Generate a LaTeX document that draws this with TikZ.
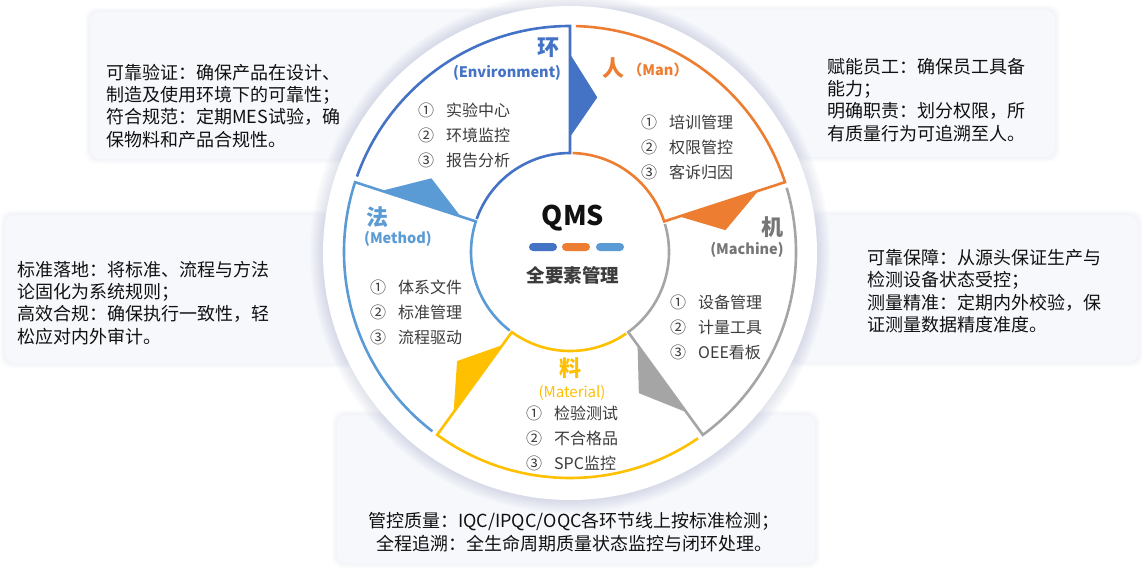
\documentclass[tikz,border=0pt]{standalone}
\usepackage{fontspec}
\setmainfont{Noto Sans CJK SC}
\usetikzlibrary{calc}

\definecolor{envblue}{RGB}{68,114,196}
\definecolor{manorange}{RGB}{237,125,49}
\definecolor{machgray}{RGB}{165,165,165}
\definecolor{matyellow}{RGB}{255,192,0}
\definecolor{methblue}{RGB}{91,155,213}
\definecolor{machlabel}{RGB}{118,118,118}
\definecolor{boxbg}{RGB}{246,248,252}
\definecolor{glow}{RGB}{150,160,190}
\definecolor{notetext}{RGB}{17,17,17}
\definecolor{itemtext}{RGB}{60,60,60}

\tikzset{
  notebox/.style={fill=boxbg, rounded corners=10pt},
  note/.style={anchor=west, align=left, inner sep=0pt, text=notetext,
    font=\fontsize{18}{22.3}\selectfont},
  item/.style={anchor=west, inner sep=0pt, text=itemtext,
    font=\fontsize{16}{16}\selectfont},
  big/.style={inner sep=0pt, font=\fontsize{22}{22}\selectfont\bfseries},
  sub/.style={inner sep=0pt, font=\fontsize{14.5}{14.5}\selectfont\bfseries},
  ring/.style={line width=2.6pt, line join=miter},
  bar/.style={minimum width=28pt, minimum height=8pt, inner sep=0pt, rounded corners=4pt},
}

\begin{document}
\begin{tikzpicture}[x=1pt,y=1pt]
  \useasboundingbox (0,0) rectangle (1143,-568);

  \foreach \xa/\ya/\xb/\yb in {90/12/560/159,5/215/470/363,580/10/1055/157,670/215/1138/362,337/415/815/563}{
    \foreach \k in {1,...,5}
      \fill[glow, opacity=0.025, rounded corners=10pt] (\xa-\k,-\ya+\k) rectangle (\xb+\k,-\yb-\k);
    \fill[notebox] (\xa,-\ya) rectangle (\xb,-\yb);
  }

  \node[note] (envnote) at (106,-106) {可靠验证：确保产品在设计、\\制造及使用环境下的可靠性；\\符合规范：定期MES试验，确\\保物料和产品合规性。};
  \node[note] (methnote) at (17,-303) {标准落地：将标准、流程与方法\\论固化为系统规则；\\高效合规：确保执行一致性，轻\\松应对内外审计。};
  \node[note] (mannote) at (827,-100) {赋能员工：确保员工具备\\能力；\\明确职责：划分权限，所\\有质量行为可追溯至人。};
  \node[note] (machnote) at (867,-291) {可靠保障：从源头保证生产与\\检测设备状态受控；\\测量精准：定期内外校验，保\\证测量数据精度准度。};
  \node[note, anchor=center, align=center] (matnote) at (574,-532) {管控质量：IQC/IPQC/OQC各环节线上按标准检测；\\全程追溯：全生命周期质量状态监控与闭环处理。};

  \coordinate (D) at (570,-253);
  \foreach \k in {1,...,10}
    \fill[glow, opacity=0.03] (D) circle[radius=247+\k*1.3];
  \fill[white] (D) circle[radius=247];

  \coordinate (C) at (570,-252);
  \foreach \a/\c in {90/envblue,18/manorange,-54/machgray,-126/matyellow,162/methblue}{
    \draw[ring, \c] ($(C)+(\a+70.5:226)$) arc[start angle=\a+70.5, end angle=\a, radius=226]
      -- ($(C)+(\a:99)$) arc[start angle=\a, end angle=\a+70.5, radius=99];
    \fill[\c] ($(C)+(\a:115)$) -- ($(C)+(\a:198)$) -- ($(C)+(\a-10:157)$) -- cycle;
  }

  \node[big, text=envblue] (envlabel) at (548,-48) {环};
  \node[sub, text=envblue] (envsub) at (507,-73) {(Environment)};
  \node[big, text=manorange] (manlabel) at (613,-68) {人};
  \node[sub, text=manorange] (mansub) at (658,-70) {（Man）};
  \node[big, text=machlabel] (machlabel) at (772,-227) {机};
  \node[sub, text=machlabel] (machsub) at (747,-250) {(Machine)};
  \node[big, text=methblue] (methlabel) at (377,-217) {法};
  \node[sub, text=methblue] (methsub) at (398,-239) {(Method)};
  \node[big, text=matyellow] (matlabel) at (570,-368) {料};
  \node[sub, text=matyellow, font=\fontsize{15}{15}\selectfont] (matsub) at (572,-393) {(Material)};

  \foreach \n/\t [count=\i] in {①/实验中心,②/环境监控,③/报告分析}
    \node[item] (envitem\i) at (418,-85-25*\i) {\n\hspace{12pt}\t};
  \foreach \n/\t [count=\i] in {①/培训管理,②/权限管控,③/客诉归因}
    \node[item] (manitem\i) at (641,-97-25*\i) {\n\hspace{12pt}\t};
  \foreach \n/\t [count=\i] in {①/体系文件,②/标准管理,③/流程驱动}
    \node[item] (methitem\i) at (370,-262-25.3*\i) {\n\hspace{12pt}\t};
  \foreach \n/\t [count=\i] in {①/设备管理,②/计量工具,③/OEE看板}
    \node[item] (machitem\i) at (670,-277-25*\i) {\n\hspace{12pt}\t};
  \foreach \n/\t [count=\i] in {①/检验测试,②/不合格品,③/SPC监控}
    \node[item] (matitem\i) at (526,-388-25*\i) {\n\hspace{12pt}\t};

  \node[inner sep=0pt, text=notetext, font=\fontsize{27}{27}\selectfont\bfseries] (qms) at (573,-218) {QMS};
  \foreach \x/\c [count=\i] in {543/envblue,576/manorange,610/methblue}
    \node[bar, fill=\c] (bar\i) at (\x,-247) {};
  \node[inner sep=0pt, text=itemtext, font=\fontsize{18.5}{18.5}\selectfont\bfseries] (qmssub) at (573,-275) {全要素管理};
\end{tikzpicture}
\end{document}
